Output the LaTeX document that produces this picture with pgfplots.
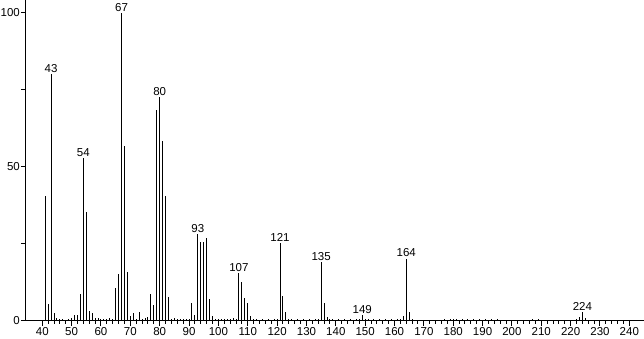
\documentclass[border=0pt]{standalone}
\usepackage{fontspec}
\setmainfont{Liberation Sans}
\usepackage{pgfplots}
\usepackage{pgfplotstable}
\pgfplotsset{compat=1.18}
\pgfplotstableread{
m y
41 40.6
42 5.5
43 80.2
44 2.7
45 1.0
46 0.5
47 0.6
49 0.5
50 1.0
51 1.8
52 1.8
53 8.9
54 52.9
55 35.5
56 3.2
57 2.6
58 1.0
59 1.0
60 0.6
61 0.6
62 0.8
63 1.0
64 0.8
65 10.8
66 15.3
67 100
68 56.8
69 15.9
70 1.5
71 2.6
72 0.8
73 2.9
74 0.8
75 1.0
76 1.2
77 8.8
78 5.3
79 68.5
80 72.6
81 58.5
82 40.6
83 7.7
84 0.8
85 1.0
86 0.8
87 0.8
88 0.6
89 0.8
90 0.6
91 5.7
92 1.8
93 28.3
94 25.5
95 25.5
96 27.1
97 7.0
98 1.5
99 0.8
100 0.6
101 0.6
102 0.6
103 0.8
104 0.8
105 1.0
106 0.8
107 15.5
108 12.6
109 7.6
110 5.7
111 1.5
112 0.6
113 0.6
115 0.6
117 0.6
119 0.8
120 0.8
121 25.4
122 8.0
123 2.8
124 0.6
125 0.6
127 0.5
129 0.5
131 0.5
133 0.8
134 0.8
135 19.1
136 5.7
137 1.2
138 0.5
139 0.6
141 0.6
143 0.5
145 0.5
147 0.6
148 0.5
149 2.0
150 0.6
151 0.5
153 0.5
155 0.5
157 0.5
159 0.5
161 0.6
162 0.8
163 1.5
164 20.2
165 2.9
166 0.6
177 0.5
179 0.6
180 0.5
181 0.6
183 0.5
185 0.6
187 0.5
189 0.5
191 0.5
193 0.5
195 0.5
207 0.5
209 0.5
222 0.5
223 1.2
224 3.0
225 1.0
}\spectrum
\begin{document}
\begin{tikzpicture}
\begin{axis}[
  scale only axis, width=618pt, height=321pt,
  xmin=34.45, xmax=245, ymin=0, ymax=104.2,
  axis x line=bottom, axis y line=left,
  axis line style={-, line width=1pt},
  xtick={40,50,...,240}, minor x tick num=4,
  ytick={0,50,100},
  extra y ticks={25,75}, extra y tick labels={},
  tick align=outside, major tick length=5pt, minor tick length=3pt,
  every tick/.style={black, line width=1pt},
  tick label style={font=\fontsize{11.5}{12}\selectfont, inner sep=1pt},
  /pgf/number format/assume math mode=true,
  clip=false,
]
\addplot[ycomb, black, line width=1pt, mark=none] table[x=m, y=y] {\spectrum};
\coordinate (bl) at (rel axis cs:0,0);
\coordinate (tr) at (rel axis cs:1,1);
\begin{scope}[every node/.style={anchor=south, inner sep=1.5pt, font=\fontsize{11.5}{12}\selectfont}]
\node at (axis cs:43,80.2) {43};
\node at (axis cs:54,52.9) {54};
\node at (axis cs:67,100) {67};
\node at (axis cs:80,72.6) {80};
\node at (axis cs:93,28.3) {93};
\node at (axis cs:107,15.5) {107};
\node at (axis cs:121,25.4) {121};
\node at (axis cs:135,19.1) {135};
\node at (axis cs:149,2.0) {149};
\node at (axis cs:164,20.2) {164};
\node at (axis cs:224,3.0) {224};
\end{scope}
\end{axis}
\pgfresetboundingbox
\path ([xshift=-26pt,yshift=-18pt]bl) rectangle (tr);
\end{tikzpicture}
\end{document}
